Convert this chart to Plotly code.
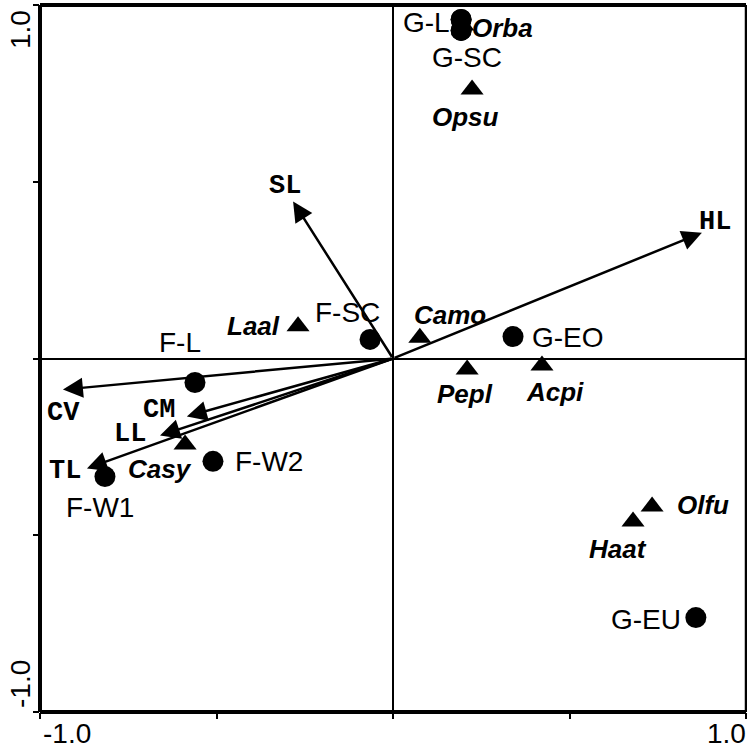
import plotly.graph_objects as go

# ---- data ----
site_names = ["G-L", "G-SC", "G-EO", "G-EU", "F-SC", "F-L", "F-W2", "F-W1"]
site_x = [0.193, 0.193, 0.340, 0.858, -0.065, -0.561, -0.510, -0.816]
site_y = [0.959, 0.928, 0.062, -0.733, 0.054, -0.068, -0.291, -0.334]

species_names = ["Orba", "Opsu", "Laal", "Camo", "Pepl", "Acpi", "Casy", "Olfu", "Haat"]
species_x = [0.198, 0.224, -0.269, 0.076, 0.210, 0.422, -0.589, 0.734, 0.680]
species_y = [0.942, 0.761, 0.091, 0.059, -0.031, -0.020, -0.243, -0.419, -0.461]

trait_names = ["SL", "HL", "CV", "CM", "LL", "TL"]
trait_x = [-0.283, 0.875, -0.935, -0.584, -0.660, -0.867]
trait_y = [0.444, 0.356, -0.088, -0.164, -0.218, -0.311]

tick_vals = [-1.0, -0.5, 0.0, 0.5, 1.0]

# ---- label placement (pixel offsets, anchor) ----
site_lab = {
    "G-L": (-9, -3, "right"), "G-SC": (6, -27, "center"), "G-EO": (17, -1, "left"),
    "G-EU": (-13, -2, "right"), "F-SC": (-23, 27, "center"), "F-L": (-15, 40, "center"),
    "F-W2": (20, 0, "left"), "F-W1": (-5, -31, "center"),
}
species_lab = {
    "Orba": (7, -2, "left"), "Opsu": (-7, -28, "center"), "Laal": (-16, 0, "right"),
    "Camo": (30, 23, "center"), "Pepl": (-2, -25, "center"), "Acpi": (13, -26, "center"),
    "Casy": (-25, -25, "center"), "Olfu": (23, 2, "left"), "Haat": (-15, -28, "center"),
}
trait_lab = {
    "SL": (-8, 16), "HL": (13, 11), "CV": (1, -23), "CM": (-28, 6), "LL": (-30, 2), "TL": (-22, -3),
}

SANS = "Liberation Sans, Arial, sans-serif"
MONO = "Liberation Mono, Courier New, monospace"

fig = go.Figure()

fig.add_trace(go.Scatter(
    x=site_x, y=site_y, mode="markers",
    marker=dict(symbol="circle", size=21, color="black"),
    hoverinfo="text", text=site_names, showlegend=False))
fig.add_trace(go.Scatter(
    x=species_x, y=species_y, mode="markers",
    marker=dict(symbol="triangle-up", size=20, color="black"),
    hoverinfo="text", text=species_names, showlegend=False))
# re-draw G-L / G-SC circles on top of Orba
fig.add_trace(go.Scatter(
    x=site_x[:2], y=site_y[:2], mode="markers",
    marker=dict(symbol="circle", size=21, color="black"),
    hoverinfo="skip", showlegend=False))

ann = []
# trait arrows
for n, tx, ty in zip(trait_names, trait_x, trait_y):
    ann.append(dict(x=tx, y=ty, ax=0, ay=0, xref="x", yref="y", axref="x", ayref="y",
                    text="", showarrow=True, arrowhead=2, arrowsize=1.6, arrowwidth=2.5,
                    arrowcolor="black", standoff=0, startstandoff=0))
    dx, dy = trait_lab[n]
    ann.append(dict(x=tx, y=ty, xref="x", yref="y", text="<b>%s</b>" % n, showarrow=False,
                    xshift=dx, yshift=dy, xanchor="center", yanchor="middle",
                    font=dict(family=MONO, size=27, color="black")))
for n, sx, sy in zip(site_names, site_x, site_y):
    dx, dy, xa = site_lab[n]
    ann.append(dict(x=sx, y=sy, xref="x", yref="y", text=n, showarrow=False,
                    xshift=dx, yshift=dy, xanchor=xa, yanchor="middle",
                    font=dict(family=SANS, size=28, color="black")))
for n, sx, sy in zip(species_names, species_x, species_y):
    dx, dy, xa = species_lab[n]
    ann.append(dict(x=sx, y=sy, xref="x", yref="y", text="<b><i>%s</i></b>" % n, showarrow=False,
                    xshift=dx, yshift=dy, xanchor=xa, yanchor="middle",
                    font=dict(family=SANS, size=26, color="black")))

# axis end labels
ann += [
    dict(x=-1.0, y=0, xref="x", yref="paper", text="-1.0", showarrow=False, xshift=27, yshift=-21,
         xanchor="center", yanchor="middle", font=dict(family=SANS, size=28, color="black")),
    dict(x=1.0, y=0, xref="x", yref="paper", text="1.0", showarrow=False, xshift=-20, yshift=-21,
         xanchor="center", yanchor="middle", font=dict(family=SANS, size=28, color="black")),
    dict(x=0, y=1.0, xref="paper", yref="y", text="1.0", showarrow=False, xshift=-20, yshift=-25,
         xanchor="center", yanchor="middle", textangle=-90, font=dict(family=SANS, size=28, color="black")),
    dict(x=0, y=-1.0, xref="paper", yref="y", text="-1.0", showarrow=False, xshift=-20, yshift=28,
         xanchor="center", yanchor="middle", textangle=-90, font=dict(family=SANS, size=28, color="black")),
]

shapes = [
    dict(type="line", xref="paper", yref="paper", x0=0, x1=0, y0=0, y1=1, line=dict(color="black", width=4)),
    dict(type="line", xref="paper", yref="paper", x0=0, x1=1, y0=0, y1=0, line=dict(color="black", width=4)),
    dict(type="line", xref="paper", yref="paper", x0=0, x1=1, y0=1, y1=1, line=dict(color="black", width=4)),
    dict(type="line", xref="paper", yref="paper", x0=1, x1=1, y0=0, y1=1, line=dict(color="black", width=2.5)),
]

axis_common = dict(range=[-1.0, 1.0], tickvals=tick_vals, showticklabels=False, ticks="outside",
                   ticklen=6, tickwidth=2, tickcolor="black", showgrid=False, showline=False,
                   zeroline=True, zerolinecolor="black", zerolinewidth=1.5, fixedrange=True)

fig.update_layout(
    width=747, height=751,
    margin=dict(l=40, r=1, t=5, b=39),
    paper_bgcolor="white", plot_bgcolor="white",
    xaxis=axis_common, yaxis=axis_common,
    annotations=ann, shapes=shapes,
    showlegend=False,
)

fig.write_html("out.html", config={"displayModeBar": False},
               post_script="document.body.style.margin='0';document.body.style.overflow='hidden';")
